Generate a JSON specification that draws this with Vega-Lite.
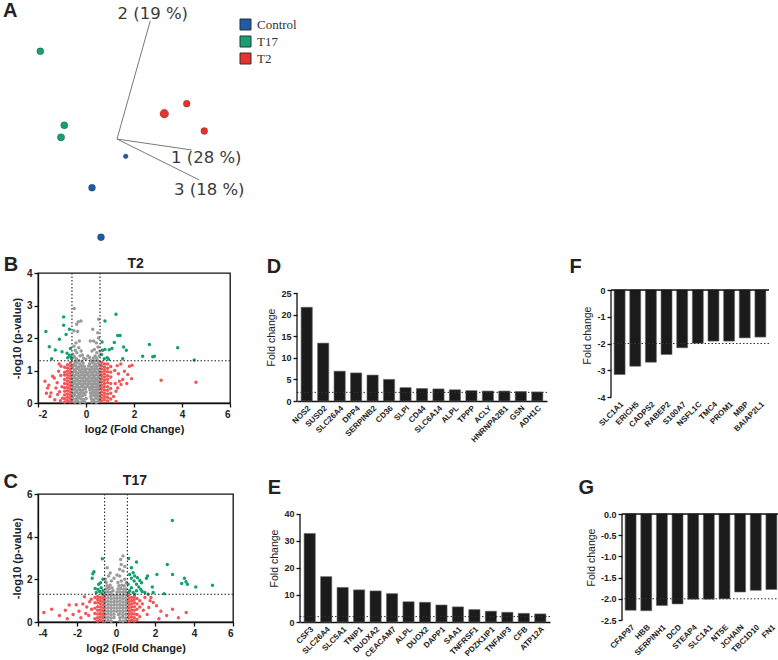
{
"$schema": "https://vega.github.io/schema/vega-lite/v6.json",
"background": "white",
"padding": {"left": 2, "top": 0, "right": 0, "bottom": 0},
"autosize": {"type": "pad"},
"config": {
  "font": "Liberation Sans",
  "view": {"stroke": null},
  "axis": {"domainColor": "#111", "domainWidth": 1.3, "tickColor": "#111", "tickWidth": 1.3, "tickSize": 4, "labelFontWeight": "bold", "labelFontSize": 9.5, "labelColor": "#222", "titleColor": "#222", "titleFontWeight": "normal", "titleFontSize": 10.5, "grid": false, "labelPadding": 2, "titlePadding": 4, "labelOverlap": false},
  "locale": {"number": {"decimal": ".", "thousands": ",", "grouping": [3], "currency": ["$", ""], "minus": "-"}}
},
"datasets": {
  "pca": [
    {"group": "T17", "x": -7.67, "y": 8.77, "depth": 0},
    {"group": "T17", "x": -5.27, "y": 1.37, "depth": 0.1},
    {"group": "T17", "x": -5.6, "y": 0.17, "depth": 0.2},
    {"group": "T2", "x": 6.97, "y": 3.53, "depth": -0.1},
    {"group": "T2", "x": 4.73, "y": 2.53, "depth": 1},
    {"group": "T2", "x": 8.73, "y": 0.8, "depth": -0.1},
    {"group": "Control", "x": 0.87, "y": -1.73, "depth": -1},
    {"group": "Control", "x": -2.5, "y": -4.87, "depth": 0},
    {"group": "Control", "x": -1.6, "y": -9.83, "depth": 0}
  ],
  "axes3d": [
    {"axis": "1", "x0": 0, "y0": 0, "x1": 7.47, "y1": -1.1, "label": "1 (28 %)", "lx": 5.4, "ly": -2.4},
    {"axis": "2", "x0": 0, "y0": 0, "x1": 3.33, "y1": 11.83, "label": "2 (19 %)", "lx": 0.05, "ly": 12.05},
    {"axis": "3", "x0": 0, "y0": 0, "x1": 8.23, "y1": -4.1, "label": "3 (18 %)", "lx": 5.7, "ly": -5.6}
  ],
  "t2": [
    {"x":-0.57,"y":0.05,"s":"n"},{"x":-0.46,"y":0.03,"s":"n"},{"x":-0.36,"y":0.06,"s":"n"},{"x":-0.25,"y":0.02,"s":"n"},{"x":-0.14,"y":0.05,"s":"n"},{"x":-0.05,"y":0.03,"s":"n"},{"x":0.24,"y":0.04,"s":"n"},{"x":0.33,"y":0.06,"s":"n"},{"x":0.43,"y":0.02,"s":"n"},{"x":0.53,"y":0.05,"s":"n"},
    {"x":-0.55,"y":0.14,"s":"n"},{"x":-0.43,"y":0.12,"s":"n"},{"x":-0.31,"y":0.15,"s":"n"},{"x":-0.2,"y":0.13,"s":"n"},{"x":-0.09,"y":0.11,"s":"n"},{"x":0.01,"y":0.14,"s":"n"},{"x":0.22,"y":0.13,"s":"n"},{"x":0.31,"y":0.11,"s":"n"},{"x":0.41,"y":0.15,"s":"n"},{"x":0.5,"y":0.12,"s":"n"},{"x":0.58,"y":0.14,"s":"n"},
    {"x":-0.58,"y":0.22,"s":"n"},{"x":-0.48,"y":0.24,"s":"n"},{"x":-0.37,"y":0.21,"s":"n"},{"x":-0.26,"y":0.23,"s":"n"},{"x":-0.15,"y":0.22,"s":"n"},{"x":-0.04,"y":0.25,"s":"n"},{"x":0.2,"y":0.21,"s":"n"},{"x":0.29,"y":0.24,"s":"n"},{"x":0.38,"y":0.22,"s":"n"},{"x":0.47,"y":0.23,"s":"n"},{"x":0.56,"y":0.21,"s":"n"},
    {"x":-0.53,"y":0.31,"s":"n"},{"x":-0.42,"y":0.33,"s":"n"},{"x":-0.32,"y":0.3,"s":"n"},{"x":-0.21,"y":0.32,"s":"n"},{"x":-0.1,"y":0.31,"s":"n"},{"x":0.0,"y":0.34,"s":"n"},{"x":0.19,"y":0.3,"s":"n"},{"x":0.27,"y":0.32,"s":"n"},{"x":0.36,"y":0.31,"s":"n"},{"x":0.45,"y":0.33,"s":"n"},{"x":0.55,"y":0.3,"s":"n"},
    {"x":-0.57,"y":0.4,"s":"n"},{"x":-0.47,"y":0.42,"s":"n"},{"x":-0.36,"y":0.39,"s":"n"},{"x":-0.25,"y":0.41,"s":"n"},{"x":-0.14,"y":0.4,"s":"n"},{"x":-0.03,"y":0.43,"s":"n"},{"x":0.16,"y":0.4,"s":"n"},{"x":0.25,"y":0.42,"s":"n"},{"x":0.34,"y":0.39,"s":"n"},{"x":0.43,"y":0.41,"s":"n"},{"x":0.52,"y":0.4,"s":"n"},
    {"x":-0.52,"y":0.49,"s":"n"},{"x":-0.41,"y":0.5,"s":"n"},{"x":-0.3,"y":0.48,"s":"n"},{"x":-0.19,"y":0.51,"s":"n"},{"x":-0.09,"y":0.49,"s":"n"},{"x":0.02,"y":0.5,"s":"n"},{"x":0.14,"y":0.48,"s":"n"},{"x":0.24,"y":0.51,"s":"n"},{"x":0.33,"y":0.49,"s":"n"},{"x":0.42,"y":0.5,"s":"n"},{"x":0.51,"y":0.48,"s":"n"},{"x":0.58,"y":0.51,"s":"n"},
    {"x":-0.56,"y":0.58,"s":"n"},{"x":-0.45,"y":0.6,"s":"n"},{"x":-0.35,"y":0.57,"s":"n"},{"x":-0.24,"y":0.59,"s":"n"},{"x":-0.13,"y":0.58,"s":"n"},{"x":-0.03,"y":0.6,"s":"n"},{"x":0.08,"y":0.57,"s":"n"},{"x":0.18,"y":0.59,"s":"n"},{"x":0.28,"y":0.58,"s":"n"},{"x":0.37,"y":0.6,"s":"n"},{"x":0.46,"y":0.57,"s":"n"},{"x":0.55,"y":0.59,"s":"n"},
    {"x":-0.53,"y":0.67,"s":"n"},{"x":-0.42,"y":0.69,"s":"n"},{"x":-0.31,"y":0.66,"s":"n"},{"x":-0.2,"y":0.68,"s":"n"},{"x":-0.1,"y":0.67,"s":"n"},{"x":0.0,"y":0.69,"s":"n"},{"x":0.1,"y":0.66,"s":"n"},{"x":0.2,"y":0.68,"s":"n"},{"x":0.3,"y":0.67,"s":"n"},{"x":0.39,"y":0.69,"s":"n"},{"x":0.49,"y":0.66,"s":"n"},{"x":0.57,"y":0.68,"s":"n"},
    {"x":-0.57,"y":0.76,"s":"n"},{"x":-0.46,"y":0.78,"s":"n"},{"x":-0.36,"y":0.75,"s":"n"},{"x":-0.25,"y":0.77,"s":"n"},{"x":-0.14,"y":0.76,"s":"n"},{"x":-0.04,"y":0.78,"s":"n"},{"x":0.06,"y":0.75,"s":"n"},{"x":0.16,"y":0.77,"s":"n"},{"x":0.26,"y":0.76,"s":"n"},{"x":0.36,"y":0.78,"s":"n"},{"x":0.45,"y":0.75,"s":"n"},{"x":0.54,"y":0.77,"s":"n"},
    {"x":-0.52,"y":0.85,"s":"n"},{"x":-0.41,"y":0.87,"s":"n"},{"x":-0.3,"y":0.84,"s":"n"},{"x":-0.19,"y":0.86,"s":"n"},{"x":-0.08,"y":0.85,"s":"n"},{"x":0.02,"y":0.87,"s":"n"},{"x":0.12,"y":0.84,"s":"n"},{"x":0.22,"y":0.86,"s":"n"},{"x":0.32,"y":0.85,"s":"n"},{"x":0.42,"y":0.87,"s":"n"},{"x":0.51,"y":0.84,"s":"n"},{"x":0.58,"y":0.86,"s":"n"},
    {"x":-0.56,"y":0.94,"s":"n"},{"x":-0.44,"y":0.96,"s":"n"},{"x":-0.33,"y":0.93,"s":"n"},{"x":-0.22,"y":0.95,"s":"n"},{"x":-0.11,"y":0.94,"s":"n"},{"x":-0.01,"y":0.96,"s":"n"},{"x":0.09,"y":0.93,"s":"n"},{"x":0.19,"y":0.95,"s":"n"},{"x":0.29,"y":0.94,"s":"n"},{"x":0.39,"y":0.96,"s":"n"},{"x":0.48,"y":0.93,"s":"n"},{"x":0.57,"y":0.95,"s":"n"},
    {"x":-0.5,"y":1.03,"s":"n"},{"x":-0.39,"y":1.05,"s":"n"},{"x":-0.27,"y":1.02,"s":"n"},{"x":-0.16,"y":1.04,"s":"n"},{"x":-0.05,"y":1.03,"s":"n"},{"x":0.05,"y":1.05,"s":"n"},{"x":0.15,"y":1.02,"s":"n"},{"x":0.25,"y":1.04,"s":"n"},{"x":0.35,"y":1.03,"s":"n"},{"x":0.45,"y":1.05,"s":"n"},{"x":0.54,"y":1.02,"s":"n"},
    {"x":-0.55,"y":1.12,"s":"n"},{"x":-0.43,"y":1.14,"s":"n"},{"x":-0.31,"y":1.11,"s":"n"},{"x":-0.19,"y":1.13,"s":"n"},{"x":-0.07,"y":1.12,"s":"n"},{"x":0.11,"y":1.14,"s":"n"},{"x":0.22,"y":1.11,"s":"n"},{"x":0.33,"y":1.13,"s":"n"},{"x":0.44,"y":1.12,"s":"n"},{"x":0.55,"y":1.14,"s":"n"},
    {"x":-0.5,"y":1.21,"s":"n"},{"x":-0.38,"y":1.23,"s":"n"},{"x":-0.25,"y":1.2,"s":"n"},{"x":-0.12,"y":1.22,"s":"n"},{"x":0.15,"y":1.21,"s":"n"},{"x":0.28,"y":1.23,"s":"n"},{"x":0.4,"y":1.2,"s":"n"},{"x":0.52,"y":1.22,"s":"n"},
    {"x":-0.45,"y":1.29,"s":"n"},{"x":-0.3,"y":1.31,"s":"n"},{"x":-0.16,"y":1.28,"s":"n"},{"x":0.2,"y":1.3,"s":"n"},{"x":0.34,"y":1.29,"s":"n"},{"x":0.48,"y":1.31,"s":"n"},
    {"x":-0.49,"y":2.91,"s":"n"},{"x":-0.32,"y":2.5,"s":"n"},{"x":-0.21,"y":2.52,"s":"n"},{"x":-0.39,"y":2.42,"s":"n"},{"x":-0.5,"y":2.22,"s":"n"},{"x":-0.35,"y":2.2,"s":"n"},{"x":-0.28,"y":1.91,"s":"n"},{"x":-0.42,"y":1.85,"s":"n"},{"x":-0.5,"y":1.75,"s":"n"},{"x":-0.3,"y":1.7,"s":"n"},{"x":-0.45,"y":1.62,"s":"n"},{"x":-0.38,"y":1.55,"s":"n"},{"x":-0.55,"y":1.5,"s":"n"},{"x":-0.2,"y":1.6,"s":"n"},{"x":-0.25,"y":1.45,"s":"n"},{"x":-0.48,"y":1.42,"s":"n"},{"x":-0.1,"y":1.38,"s":"n"},{"x":0.0,"y":1.35,"s":"n"},
    {"x":0.53,"y":2.58,"s":"n"},{"x":0.49,"y":2.16,"s":"n"},{"x":0.28,"y":2.27,"s":"n"},{"x":0.32,"y":1.91,"s":"n"},{"x":0.18,"y":1.91,"s":"n"},{"x":0.43,"y":1.85,"s":"n"},{"x":0.5,"y":1.72,"s":"n"},{"x":0.35,"y":1.65,"s":"n"},{"x":0.25,"y":1.6,"s":"n"},{"x":0.45,"y":1.55,"s":"n"},{"x":0.55,"y":1.45,"s":"n"},{"x":0.38,"y":1.45,"s":"n"},{"x":0.15,"y":1.4,"s":"n"},{"x":0.3,"y":1.38,"s":"n"},{"x":0.58,"y":1.6,"s":"n"},{"x":0.52,"y":2.0,"s":"n"},{"x":-0.15,"y":1.48,"s":"n"},{"x":0.08,"y":1.45,"s":"n"},{"x":-0.58,"y":1.38,"s":"n"},{"x":-0.4,"y":1.36,"s":"n"},{"x":0.44,"y":1.38,"s":"n"},
    {"x":-0.65,"y":0.04,"s":"r"},{"x":-0.65,"y":0.14,"s":"r"},{"x":-0.65,"y":0.24,"s":"r"},{"x":-0.65,"y":0.34,"s":"r"},{"x":-0.65,"y":0.44,"s":"r"},{"x":-0.65,"y":0.54,"s":"r"},{"x":-0.65,"y":0.64,"s":"r"},{"x":-0.65,"y":0.74,"s":"r"},{"x":-0.65,"y":0.84,"s":"r"},{"x":-0.65,"y":0.94,"s":"r"},{"x":-0.65,"y":1.04,"s":"r"},{"x":-0.65,"y":1.14,"s":"r"},{"x":-0.65,"y":1.24,"s":"r"},
    {"x":-0.77,"y":0.08,"s":"r"},{"x":-0.77,"y":0.18,"s":"r"},{"x":-0.77,"y":0.28,"s":"r"},{"x":-0.77,"y":0.38,"s":"r"},{"x":-0.77,"y":0.48,"s":"r"},{"x":-0.77,"y":0.58,"s":"r"},{"x":-0.77,"y":0.68,"s":"r"},{"x":-0.77,"y":0.78,"s":"r"},{"x":-0.77,"y":0.88,"s":"r"},{"x":-0.77,"y":0.98,"s":"r"},{"x":-0.77,"y":1.08,"s":"r"},{"x":-0.77,"y":1.18,"s":"r"},
    {"x":-0.89,"y":0.03,"s":"r"},{"x":-0.89,"y":0.13,"s":"r"},{"x":-0.89,"y":0.25,"s":"r"},{"x":-0.89,"y":0.36,"s":"r"},{"x":-0.89,"y":0.47,"s":"r"},{"x":-0.89,"y":0.6,"s":"r"},{"x":-0.89,"y":0.72,"s":"r"},{"x":-0.89,"y":0.86,"s":"r"},{"x":-0.89,"y":0.95,"s":"r"},{"x":-0.89,"y":1.1,"s":"r"},
    {"x":0.65,"y":0.05,"s":"r"},{"x":0.65,"y":0.15,"s":"r"},{"x":0.65,"y":0.25,"s":"r"},{"x":0.65,"y":0.35,"s":"r"},{"x":0.65,"y":0.45,"s":"r"},{"x":0.65,"y":0.55,"s":"r"},{"x":0.65,"y":0.65,"s":"r"},{"x":0.65,"y":0.75,"s":"r"},{"x":0.65,"y":0.85,"s":"r"},{"x":0.65,"y":0.95,"s":"r"},{"x":0.65,"y":1.05,"s":"r"},{"x":0.65,"y":1.15,"s":"r"},{"x":0.65,"y":1.25,"s":"r"},
    {"x":0.77,"y":0.1,"s":"r"},{"x":0.77,"y":0.2,"s":"r"},{"x":0.77,"y":0.3,"s":"r"},{"x":0.77,"y":0.4,"s":"r"},{"x":0.77,"y":0.5,"s":"r"},{"x":0.77,"y":0.6,"s":"r"},{"x":0.77,"y":0.7,"s":"r"},{"x":0.77,"y":0.8,"s":"r"},{"x":0.77,"y":0.9,"s":"r"},{"x":0.77,"y":1.0,"s":"r"},{"x":0.77,"y":1.1,"s":"r"},{"x":0.77,"y":1.2,"s":"r"},
    {"x":0.9,"y":0.06,"s":"r"},{"x":0.9,"y":0.17,"s":"r"},{"x":0.9,"y":0.28,"s":"r"},{"x":0.9,"y":0.39,"s":"r"},{"x":0.9,"y":0.5,"s":"r"},{"x":0.9,"y":0.62,"s":"r"},{"x":0.9,"y":0.73,"s":"r"},{"x":0.9,"y":0.84,"s":"r"},{"x":0.9,"y":0.96,"s":"r"},{"x":0.9,"y":1.07,"s":"r"},{"x":0.9,"y":1.2,"s":"r"},
    {"x":1.03,"y":0.12,"s":"r"},{"x":1.03,"y":0.3,"s":"r"},{"x":1.03,"y":0.45,"s":"r"},{"x":1.03,"y":0.6,"s":"r"},{"x":1.03,"y":0.8,"s":"r"},{"x":1.03,"y":0.95,"s":"r"},{"x":1.03,"y":1.12,"s":"r"},
    {"x":-1.71,"y":0.67,"s":"r"},{"x":-1.6,"y":0.46,"s":"r"},{"x":-1.39,"y":0.82,"s":"r"},{"x":-1.32,"y":0.77,"s":"r"},{"x":-1.46,"y":0.31,"s":"r"},{"x":-1.25,"y":0.46,"s":"r"},{"x":-1.14,"y":0.98,"s":"r"},{"x":-1.04,"y":1.13,"s":"r"},{"x":-1.18,"y":0.26,"s":"r"},{"x":-1.07,"y":0.07,"s":"r"},{"x":-0.98,"y":0.15,"s":"r"},{"x":-1.5,"y":0.2,"s":"r"},{"x":-1.3,"y":0.1,"s":"r"},{"x":-1.2,"y":0.62,"s":"r"},{"x":-1.1,"y":0.35,"s":"r"},{"x":-1.65,"y":0.3,"s":"r"},{"x":-1.55,"y":0.55,"s":"r"},{"x":-1.0,"y":0.5,"s":"r"},{"x":-1.05,"y":0.85,"s":"r"},{"x":-1.12,"y":1.2,"s":"r"},
    {"x":1.81,"y":1.13,"s":"r"},{"x":1.92,"y":1.16,"s":"r"},{"x":1.9,"y":0.75,"s":"r"},{"x":1.74,"y":0.88,"s":"r"},{"x":1.6,"y":0.98,"s":"r"},{"x":1.46,"y":0.57,"s":"r"},{"x":1.32,"y":0.46,"s":"r"},{"x":1.25,"y":0.36,"s":"r"},{"x":1.39,"y":0.67,"s":"r"},{"x":1.53,"y":0.72,"s":"r"},{"x":3.13,"y":0.7,"s":"r"},{"x":4.58,"y":0.64,"s":"r"},{"x":1.2,"y":1.0,"s":"r"},{"x":1.3,"y":1.15,"s":"r"},{"x":1.45,"y":1.2,"s":"r"},{"x":1.15,"y":0.2,"s":"r"},{"x":1.22,"y":0.6,"s":"r"},{"x":1.35,"y":0.9,"s":"r"},{"x":1.7,"y":0.6,"s":"r"},{"x":1.25,"y":0.05,"s":"r"},
    {"x":-1.67,"y":2.2,"s":"g"},{"x":-0.93,"y":2.65,"s":"g"},{"x":-0.93,"y":2.39,"s":"g"},{"x":-0.69,"y":2.27,"s":"g"},{"x":-0.83,"y":2.11,"s":"g"},{"x":-1.11,"y":1.96,"s":"g"},{"x":-1.53,"y":1.73,"s":"g"},{"x":-1.28,"y":1.63,"s":"g"},{"x":-1.43,"y":1.36,"s":"g"},{"x":-1.0,"y":1.58,"s":"g"},{"x":-0.79,"y":1.53,"s":"g"},{"x":-0.65,"y":1.68,"s":"g"},{"x":-0.76,"y":1.39,"s":"g"},{"x":-0.69,"y":1.47,"s":"g"},{"x":-0.63,"y":1.42,"s":"g"},{"x":-0.6,"y":1.36,"s":"g"},
    {"x":1.25,"y":2.73,"s":"g"},{"x":0.79,"y":2.52,"s":"g"},{"x":1.32,"y":2.08,"s":"g"},{"x":1.42,"y":2.08,"s":"g"},{"x":0.67,"y":1.88,"s":"g"},{"x":1.18,"y":1.86,"s":"g"},{"x":1.57,"y":1.72,"s":"g"},{"x":1.68,"y":1.62,"s":"g"},{"x":1.08,"y":1.68,"s":"g"},{"x":0.97,"y":1.64,"s":"g"},{"x":0.69,"y":1.62,"s":"g"},{"x":0.65,"y":1.49,"s":"g"},{"x":0.88,"y":1.39,"s":"g"},{"x":0.94,"y":1.35,"s":"g"},{"x":0.76,"y":1.36,"s":"g"},{"x":1.53,"y":1.36,"s":"g"},{"x":2.36,"y":1.44,"s":"g"},{"x":2.64,"y":1.8,"s":"g"},{"x":2.78,"y":1.42,"s":"g"},{"x":2.85,"y":1.44,"s":"g"},{"x":3.82,"y":1.7,"s":"g"},{"x":4.51,"y":1.32,"s":"g"},{"x":0.79,"y":1.65,"s":"g"}
  ],
  "t17": [
    {"x":-0.55,"y":0.05,"s":"n"},{"x":-0.4,"y":0.07,"s":"n"},{"x":-0.25,"y":0.04,"s":"n"},{"x":0.2,"y":0.06,"s":"n"},{"x":0.35,"y":0.04,"s":"n"},{"x":0.5,"y":0.07,"s":"n"},
    {"x":-0.55,"y":0.2,"s":"n"},{"x":-0.4,"y":0.22,"s":"n"},{"x":-0.25,"y":0.19,"s":"n"},{"x":-0.1,"y":0.21,"s":"n"},{"x":0.2,"y":0.2,"s":"n"},{"x":0.35,"y":0.22,"s":"n"},{"x":0.5,"y":0.19,"s":"n"},
    {"x":-0.55,"y":0.35,"s":"n"},{"x":-0.4,"y":0.37,"s":"n"},{"x":-0.25,"y":0.34,"s":"n"},{"x":-0.1,"y":0.36,"s":"n"},{"x":0.12,"y":0.35,"s":"n"},{"x":0.2,"y":0.37,"s":"n"},{"x":0.35,"y":0.34,"s":"n"},{"x":0.5,"y":0.36,"s":"n"},
    {"x":-0.55,"y":0.5,"s":"n"},{"x":-0.4,"y":0.52,"s":"n"},{"x":-0.25,"y":0.49,"s":"n"},{"x":-0.1,"y":0.51,"s":"n"},{"x":0.05,"y":0.5,"s":"n"},{"x":0.2,"y":0.52,"s":"n"},{"x":0.35,"y":0.49,"s":"n"},{"x":0.5,"y":0.51,"s":"n"},
    {"x":-0.55,"y":0.65,"s":"n"},{"x":-0.4,"y":0.67,"s":"n"},{"x":-0.25,"y":0.64,"s":"n"},{"x":-0.1,"y":0.66,"s":"n"},{"x":0.05,"y":0.65,"s":"n"},{"x":0.2,"y":0.67,"s":"n"},{"x":0.35,"y":0.64,"s":"n"},{"x":0.5,"y":0.66,"s":"n"},
    {"x":-0.55,"y":0.8,"s":"n"},{"x":-0.4,"y":0.82,"s":"n"},{"x":-0.25,"y":0.79,"s":"n"},{"x":-0.1,"y":0.81,"s":"n"},{"x":0.05,"y":0.8,"s":"n"},{"x":0.2,"y":0.82,"s":"n"},{"x":0.35,"y":0.79,"s":"n"},{"x":0.5,"y":0.81,"s":"n"},
    {"x":-0.55,"y":0.95,"s":"n"},{"x":-0.4,"y":0.97,"s":"n"},{"x":-0.25,"y":0.94,"s":"n"},{"x":-0.1,"y":0.96,"s":"n"},{"x":0.05,"y":0.95,"s":"n"},{"x":0.2,"y":0.97,"s":"n"},{"x":0.35,"y":0.94,"s":"n"},{"x":0.5,"y":0.96,"s":"n"},
    {"x":-0.55,"y":1.1,"s":"n"},{"x":-0.4,"y":1.12,"s":"n"},{"x":-0.25,"y":1.09,"s":"n"},{"x":-0.1,"y":1.11,"s":"n"},{"x":0.05,"y":1.1,"s":"n"},{"x":0.2,"y":1.12,"s":"n"},{"x":0.35,"y":1.09,"s":"n"},{"x":0.5,"y":1.11,"s":"n"},
    {"x":-0.55,"y":1.25,"s":"n"},{"x":-0.4,"y":1.27,"s":"n"},{"x":-0.25,"y":1.24,"s":"n"},{"x":-0.1,"y":1.26,"s":"n"},{"x":0.05,"y":1.25,"s":"n"},{"x":0.2,"y":1.27,"s":"n"},{"x":0.35,"y":1.24,"s":"n"},{"x":0.5,"y":1.26,"s":"n"},
    {"x":-0.55,"y":1.4,"s":"n"},{"x":-0.4,"y":1.42,"s":"n"},{"x":-0.25,"y":1.39,"s":"n"},{"x":0.05,"y":1.4,"s":"n"},{"x":0.2,"y":1.42,"s":"n"},{"x":0.35,"y":1.39,"s":"n"},{"x":0.5,"y":1.41,"s":"n"},
    {"x":-0.5,"y":1.55,"s":"n"},{"x":-0.35,"y":1.57,"s":"n"},{"x":0.1,"y":1.55,"s":"n"},{"x":0.25,"y":1.57,"s":"n"},{"x":0.4,"y":1.54,"s":"n"},
    {"x":-0.45,"y":1.7,"s":"n"},{"x":-0.3,"y":1.72,"s":"n"},{"x":0.15,"y":1.7,"s":"n"},{"x":0.3,"y":1.72,"s":"n"},
    {"x":-0.45,"y":2.54,"s":"n"},{"x":-0.55,"y":2.0,"s":"n"},{"x":-0.38,"y":2.16,"s":"n"},{"x":-0.24,"y":1.92,"s":"n"},{"x":-0.5,"y":1.85,"s":"n"},{"x":0.19,"y":2.16,"s":"n"},{"x":0.45,"y":2.0,"s":"n"},{"x":0.27,"y":1.92,"s":"n"},{"x":-0.38,"y":1.61,"s":"n"},{"x":-0.2,"y":1.6,"s":"n"},{"x":0.1,"y":1.85,"s":"n"},{"x":0.42,"y":1.7,"s":"n"},{"x":0.53,"y":1.84,"s":"n"},{"x":0.5,"y":1.55,"s":"n"},{"x":-0.15,"y":1.46,"s":"n"},{"x":0.36,"y":3.09,"s":"n"},{"x":0.24,"y":2.93,"s":"n"},{"x":0.27,"y":2.7,"s":"n"},{"x":0.19,"y":2.47,"s":"n"},{"x":0.36,"y":2.39,"s":"n"},{"x":-0.3,"y":2.3,"s":"n"},{"x":0.45,"y":2.6,"s":"n"},{"x":0.05,"y":2.2,"s":"n"},{"x":-0.1,"y":2.05,"s":"n"},
    {"x":-0.66,"y":0.05,"s":"r"},{"x":-0.66,"y":0.2,"s":"r"},{"x":-0.66,"y":0.35,"s":"r"},{"x":-0.66,"y":0.5,"s":"r"},{"x":-0.66,"y":0.65,"s":"r"},{"x":-0.66,"y":0.8,"s":"r"},{"x":-0.66,"y":0.95,"s":"r"},{"x":-0.66,"y":1.1,"s":"r"},{"x":-0.66,"y":1.25,"s":"r"},
    {"x":-0.8,"y":0.1,"s":"r"},{"x":-0.8,"y":0.25,"s":"r"},{"x":-0.8,"y":0.4,"s":"r"},{"x":-0.8,"y":0.55,"s":"r"},{"x":-0.8,"y":0.7,"s":"r"},{"x":-0.8,"y":0.85,"s":"r"},{"x":-0.8,"y":1.0,"s":"r"},{"x":-0.8,"y":1.15,"s":"r"},
    {"x":-0.94,"y":0.05,"s":"r"},{"x":-0.94,"y":0.2,"s":"r"},{"x":-0.94,"y":0.38,"s":"r"},{"x":-0.94,"y":0.55,"s":"r"},{"x":-0.94,"y":0.72,"s":"r"},{"x":-0.94,"y":0.9,"s":"r"},{"x":-0.94,"y":1.05,"s":"r"},{"x":-0.94,"y":1.2,"s":"r"},
    {"x":-1.08,"y":0.15,"s":"r"},{"x":-1.08,"y":0.4,"s":"r"},{"x":-1.08,"y":0.65,"s":"r"},{"x":-1.08,"y":0.9,"s":"r"},{"x":-1.08,"y":1.15,"s":"r"},
    {"x":0.66,"y":0.05,"s":"r"},{"x":0.66,"y":0.2,"s":"r"},{"x":0.66,"y":0.35,"s":"r"},{"x":0.66,"y":0.5,"s":"r"},{"x":0.66,"y":0.65,"s":"r"},{"x":0.66,"y":0.8,"s":"r"},{"x":0.66,"y":0.95,"s":"r"},{"x":0.66,"y":1.1,"s":"r"},{"x":0.66,"y":1.25,"s":"r"},
    {"x":0.8,"y":0.1,"s":"r"},{"x":0.8,"y":0.25,"s":"r"},{"x":0.8,"y":0.4,"s":"r"},{"x":0.8,"y":0.55,"s":"r"},{"x":0.8,"y":0.7,"s":"r"},{"x":0.8,"y":0.85,"s":"r"},{"x":0.8,"y":1.0,"s":"r"},{"x":0.8,"y":1.15,"s":"r"},
    {"x":0.94,"y":0.05,"s":"r"},{"x":0.94,"y":0.2,"s":"r"},{"x":0.94,"y":0.38,"s":"r"},{"x":0.94,"y":0.55,"s":"r"},{"x":0.94,"y":0.72,"s":"r"},{"x":0.94,"y":0.9,"s":"r"},{"x":0.94,"y":1.05,"s":"r"},{"x":0.94,"y":1.2,"s":"r"},
    {"x":1.08,"y":0.12,"s":"r"},{"x":1.08,"y":0.35,"s":"r"},{"x":1.08,"y":0.6,"s":"r"},{"x":1.08,"y":0.85,"s":"r"},{"x":1.08,"y":1.1,"s":"r"},
    {"x":1.22,"y":0.25,"s":"r"},{"x":1.22,"y":0.7,"s":"r"},{"x":1.22,"y":1.0,"s":"r"},
    {"x":-1.62,"y":1.18,"s":"r"},{"x":-2.04,"y":0.81,"s":"r"},{"x":-1.7,"y":0.84,"s":"r"},{"x":-1.27,"y":1.07,"s":"r"},{"x":1.48,"y":1.15,"s":"r"},{"x":1.79,"y":1.15,"s":"r"},{"x":1.91,"y":0.91,"s":"r"},{"x":1.68,"y":0.68,"s":"r"},{"x":2.08,"y":0.76,"s":"r"},
    {"x":-3.7,"y":0.45,"s":"r"},{"x":-3.3,"y":0.6,"s":"r"},{"x":-2.9,"y":0.3,"s":"r"},{"x":-2.6,"y":0.55,"s":"r"},{"x":-2.4,"y":0.8,"s":"r"},{"x":-2.2,"y":0.35,"s":"r"},{"x":-1.9,"y":0.5,"s":"r"},{"x":-1.8,"y":0.2,"s":"r"},{"x":-2.5,"y":0.15,"s":"r"},{"x":-1.5,"y":0.7,"s":"r"},{"x":-1.4,"y":0.3,"s":"r"},{"x":2.3,"y":0.5,"s":"r"},{"x":2.6,"y":0.3,"s":"r"},{"x":2.9,"y":0.6,"s":"r"},{"x":3.2,"y":0.2,"s":"r"},{"x":3.6,"y":0.45,"s":"r"},{"x":2.2,"y":0.15,"s":"r"},{"x":1.6,"y":0.35,"s":"r"},{"x":1.75,"y":1.0,"s":"r"},{"x":1.4,"y":0.55,"s":"r"},{"x":-1.35,"y":0.95,"s":"r"},{"x":-1.55,"y":0.4,"s":"r"},{"x":-1.25,"y":0.6,"s":"r"},{"x":1.35,"y":0.85,"s":"r"},
    {"x":2.89,"y":4.76,"s":"g"},{"x":2.63,"y":2.7,"s":"g"},{"x":2.9,"y":2.23,"s":"g"},{"x":3.51,"y":2.05,"s":"g"},{"x":3.37,"y":1.8,"s":"g"},{"x":3.59,"y":1.89,"s":"g"},{"x":3.66,"y":1.77,"s":"g"},{"x":4.09,"y":1.64,"s":"g"},{"x":2.1,"y":2.23,"s":"g"},{"x":1.62,"y":2.16,"s":"g"},{"x":1.56,"y":2.05,"s":"g"},{"x":1.05,"y":2.81,"s":"g"},{"x":0.65,"y":2.98,"s":"g"},{"x":0.79,"y":2.54,"s":"g"},{"x":0.88,"y":2.31,"s":"g"},{"x":0.96,"y":2.16,"s":"g"},{"x":1.1,"y":2.08,"s":"g"},{"x":1.22,"y":1.95,"s":"g"},{"x":1.31,"y":1.84,"s":"g"},{"x":0.7,"y":2.23,"s":"g"},{"x":0.79,"y":2.05,"s":"g"},{"x":0.93,"y":1.92,"s":"g"},{"x":1.05,"y":1.77,"s":"g"},{"x":1.17,"y":1.64,"s":"g"},{"x":1.27,"y":1.53,"s":"g"},{"x":1.34,"y":1.43,"s":"g"},{"x":1.48,"y":1.38,"s":"g"},{"x":1.86,"y":1.64,"s":"g"},{"x":1.91,"y":1.38,"s":"g"},{"x":1.65,"y":1.3,"s":"g"},{"x":0.79,"y":1.61,"s":"g"},{"x":0.7,"y":1.46,"s":"g"},{"x":0.88,"y":1.38,"s":"g"},{"x":1.05,"y":1.46,"s":"g"},{"x":0.62,"y":1.77,"s":"g"},{"x":0.65,"y":1.38,"s":"g"},{"x":0.96,"y":1.3,"s":"g"},{"x":2.47,"y":1.33,"s":"g"},{"x":4.95,"y":1.72,"s":"g"},
    {"x":-0.7,"y":2.96,"s":"g"},{"x":-1.13,"y":2.36,"s":"g"},{"x":-1.19,"y":2.26,"s":"g"},{"x":-1.22,"y":2.05,"s":"g"},{"x":-0.67,"y":2.0,"s":"g"},{"x":-0.89,"y":1.77,"s":"g"},{"x":-1.07,"y":1.57,"s":"g"},{"x":-0.93,"y":1.53,"s":"g"},{"x":-0.76,"y":1.61,"s":"g"},{"x":-0.84,"y":1.43,"s":"g"},{"x":-1.01,"y":1.38,"s":"g"},{"x":-0.67,"y":1.46,"s":"g"},{"x":-0.72,"y":1.33,"s":"g"},{"x":-0.79,"y":1.84,"s":"g"}
  ],
  "d": [
    {"gene":"NOS2","fc":21.7},{"gene":"SUSD2","fc":13.4},{"gene":"SLC26A4","fc":6.9},{"gene":"DPP4","fc":6.5},{"gene":"SERPINB2","fc":6.0},{"gene":"CD36","fc":5.0},{"gene":"SLPI","fc":3.1},{"gene":"CD44","fc":2.9},{"gene":"SLC6A14","fc":2.8},{"gene":"ALPL","fc":2.6},{"gene":"TPPP","fc":2.4},{"gene":"ACLY","fc":2.3},{"gene":"HNRNPA2B1","fc":2.3},{"gene":"GSN","fc":2.2},{"gene":"ADH1C","fc":2.1}
  ],
  "e": [
    {"gene":"CSF3","fc":32.8},{"gene":"SLC26A4","fc":16.8},{"gene":"SLC5A1","fc":12.8},{"gene":"TNIP1","fc":11.9},{"gene":"DUOXA2","fc":11.5},{"gene":"CEACAM7","fc":10.5},{"gene":"ALPL","fc":7.5},{"gene":"DUOX2","fc":7.3},{"gene":"DAPP1","fc":6.3},{"gene":"SAA1","fc":5.6},{"gene":"TNFRSF1","fc":4.6},{"gene":"PDZK1IP1","fc":4.0},{"gene":"TNFAIP3","fc":3.6},{"gene":"CFB","fc":3.2},{"gene":"ATP12A","fc":3.0}
  ],
  "f": [
    {"gene":"SLC1A1","fc":-3.16},{"gene":"ERICH5","fc":-2.85},{"gene":"CADPS2","fc":-2.7},{"gene":"RABEP2","fc":-2.41},{"gene":"S100A7","fc":-2.16},{"gene":"NSFL1C","fc":-1.99},{"gene":"TMC4","fc":-1.91},{"gene":"PROM1","fc":-1.91},{"gene":"MBP","fc":-1.79},{"gene":"BAIAP2L1","fc":-1.76}
  ],
  "g": [
    {"gene":"CFAP97","fc":-2.27},{"gene":"HBB","fc":-2.28},{"gene":"SERPINH1","fc":-2.16},{"gene":"DCD","fc":-2.12},{"gene":"STEAP4","fc":-2.01},{"gene":"SLC1A1","fc":-2.01},{"gene":"NT5E","fc":-2.0},{"gene":"JCHAIN","fc":-1.84},{"gene":"TBC1D10","fc":-1.8},{"gene":"FN1","fc":-1.78}
  ]
},
"columns": 1,
"spacing": 4,
"resolve": {"scale": {"color": "independent", "size": "independent"}, "legend": {"color": "independent", "size": "independent"}},
"concat": [
  {
    "width": 283, "height": 250,
    "layer": [
      {"data": {"name": "axes3d"}, "mark": {"type": "rule", "color": "#7a7a7a", "strokeWidth": 1},
       "encoding": {"x": {"field": "x0", "type": "quantitative", "scale": {"domain": [-7.9, 20.4], "nice": false, "zero": false}, "axis": null},
                    "y": {"field": "y0", "type": "quantitative", "scale": {"domain": [-11.1, 13.9], "nice": false, "zero": false}, "axis": null},
                    "x2": {"field": "x1"}, "y2": {"field": "y1"}}},
      {"data": {"name": "axes3d"}, "mark": {"type": "text", "align": "left", "baseline": "alphabetic", "font": "DejaVu Sans", "fontSize": 16.5, "color": "#3a3a3a"},
       "encoding": {"x": {"field": "lx", "type": "quantitative", "axis": null}, "y": {"field": "ly", "type": "quantitative", "axis": null}, "text": {"field": "label"}}},
      {"data": {"name": "pca"}, "mark": {"type": "circle", "opacity": 1, "stroke": "#222", "strokeWidth": 0.3},
       "encoding": {"x": {"field": "x", "type": "quantitative", "axis": null}, "y": {"field": "y", "type": "quantitative", "axis": null},
                    "size": {"field": "depth", "type": "quantitative", "scale": {"domain": [-1, 1], "range": [22, 75]}, "legend": null},
                    "color": {"field": "group", "type": "nominal", "scale": {"domain": ["Control", "T17", "T2"], "range": ["#1d5ba6", "#14a074", "#e8322e"]},
                              "legend": {"orient": "none", "legendX": 201, "legendY": 18, "title": null, "symbolType": "square", "symbolSize": 121, "symbolStrokeColor": "#333", "symbolStrokeWidth": 1, "symbolOpacity": 1, "labelFont": "Liberation Serif", "labelFontSize": 13, "labelColor": "#333", "rowPadding": 2, "labelOffset": 5}}}},
      {"data": {"values": [{"t": "A"}]}, "mark": {"type": "text", "align": "left", "baseline": "alphabetic", "fontSize": 20, "fontWeight": "bold", "color": "#222"},
       "encoding": {"x": {"datum": -11.4, "type": "quantitative", "axis": null}, "y": {"datum": 12.2, "type": "quantitative", "axis": null}, "text": {"field": "t"}}}
    ]
  },
  {
    "columns": 1,
    "spacing": 27,
    "resolve": {"scale": {"color": "independent"}, "legend": {"color": "independent"}},
    "concat": [
      {
        "spacing": 34,
        "resolve": {"scale": {"color": "independent"}, "legend": {"color": "independent"}},
        "concat": [
          {
            "width": 192, "height": 130,
            "view": {"stroke": "#111", "strokeWidth": 1.3},
            "layer": [
              {"data": {"name": "t2"}, "mark": {"type": "circle", "size": 12, "opacity": 1},
               "encoding": {"x": {"field": "x", "type": "quantitative", "scale": {"domain": [-2, 6], "nice": false}, "axis": {"values": [-2, 0, 2, 4, 6], "tickCount": 20, "format": "d", "title": "log2 (Fold Change)", "titleFontWeight": "bold", "titleFontSize": 11, "labelFontSize": 10, "labelOverlap": false}},
                            "y": {"field": "y", "type": "quantitative", "scale": {"domain": [0, 4], "nice": false}, "axis": {"values": [0, 1, 2, 3, 4], "tickCount": 20, "format": "d", "title": "-log10 (p-value)", "titleFontWeight": "bold", "titleFontSize": 11, "labelFontSize": 10, "labelOverlap": false}},
                            "color": {"field": "s", "type": "nominal", "scale": {"domain": ["n", "r", "g"], "range": ["#9a9a9a", "#f25656", "#13a06e"]}, "legend": null}}},
              {"data": {"values": [{"v": 1.3}]}, "mark": {"type": "rule", "strokeDash": [1.5, 2], "color": "#222", "strokeWidth": 1.2},
               "encoding": {"y": {"field": "v", "type": "quantitative"}}},
              {"data": {"values": [{"v": -0.585}, {"v": 0.585}]}, "mark": {"type": "rule", "strokeDash": [1.5, 2], "color": "#333", "strokeWidth": 1.2},
               "encoding": {"x": {"field": "v", "type": "quantitative"}}},
              {"data": {"values": [{"t": "B"}]}, "mark": {"type": "text", "align": "left", "baseline": "alphabetic", "fontSize": 20, "fontWeight": "bold", "color": "#222"},
               "encoding": {"x": {"datum": -3.43, "type": "quantitative"}, "y": {"datum": 4.06, "type": "quantitative"}, "text": {"field": "t"}}},
              {"data": {"values": [{"t": "T2"}]}, "mark": {"type": "text", "align": "center", "baseline": "alphabetic", "fontSize": 14, "fontWeight": "bold", "color": "#222"},
               "encoding": {"x": {"datum": 2.07, "type": "quantitative"}, "y": {"datum": 4.15, "type": "quantitative"}, "text": {"field": "t"}}}
            ]
          },
          {
            "spacing": 21,
            "concat": [
              {
                "width": 250, "height": 128,
                "resolve": {"scale": {"x": "independent"}},
                "layer": [
                  {"layer": [
                    {"data": {"name": "d"}, "mark": {"type": "bar", "color": "#1b1b1b", "stroke": "#666", "strokeWidth": 0.6},
                     "encoding": {"x": {"field": "gene", "type": "nominal", "sort": null, "scale": {"paddingInner": 0.32, "paddingOuter": 0.25}, "axis": {"title": null, "labelAngle": -45, "labelFontSize": 8, "ticks": false, "labelPadding": 3}},
                                  "y": {"field": "fc", "type": "quantitative", "scale": {"domain": [0, 29.63], "nice": false}, "axis": {"values": [0, 5, 10, 15, 20, 25], "tickCount": 20, "format": "d", "domain": false, "title": "Fold change", "labelFontSize": 9, "labelOverlap": false}}}},
                    {"data": {"values": [{"v": 2}]}, "mark": {"type": "rule", "strokeDash": [1.5, 2], "color": "#333", "strokeWidth": 1},
                     "encoding": {"y": {"field": "v", "type": "quantitative"}}},
                    {"data": {"name": "d"}, "transform": [{"filter": "datum.gene === 'NOS2'"}], "mark": {"type": "text", "align": "left", "baseline": "alphabetic", "fontSize": 20, "fontWeight": "bold", "color": "#222", "dx": -40},
                     "encoding": {"x": {"field": "gene", "type": "nominal", "sort": null}, "y": {"datum": 29.63, "type": "quantitative"}, "text": {"value": "D"}}}
                  ]},
                  {"data": {"values": [{"a": 0, "lo": 0, "hi": 25}]}, "mark": {"type": "rule", "color": "#111", "strokeWidth": 1.3},
                   "encoding": {"x": {"field": "a", "type": "quantitative", "scale": {"domain": [0, 1]}, "axis": null}, "y": {"field": "lo", "type": "quantitative"}, "y2": {"field": "hi"}}}
                ]
              },
              {
                "width": 158, "height": 124,
                "resolve": {"scale": {"x": "independent"}},
                "layer": [
                  {"layer": [
                    {"data": {"name": "f"}, "mark": {"type": "bar", "color": "#1b1b1b", "stroke": "#666", "strokeWidth": 0.6},
                     "encoding": {"x": {"field": "gene", "type": "nominal", "sort": null, "scale": {"paddingInner": 0.3, "paddingOuter": 0.2}, "axis": {"title": null, "labelAngle": -45, "labelFontSize": 8, "ticks": false, "domain": false, "labelPadding": 3}},
                                  "y": {"field": "fc", "type": "quantitative", "scale": {"domain": [-4, 0.636], "nice": false, "zero": false}, "axis": {"values": [0, -1, -2, -3, -4], "tickCount": 20, "format": "d", "domain": false, "title": "Fold change", "labelFontSize": 9, "labelOverlap": false}}}},
                    {"data": {"values": [{"v": 0}]}, "mark": {"type": "rule", "color": "#111", "strokeWidth": 1.3},
                     "encoding": {"y": {"field": "v", "type": "quantitative"}}},
                    {"data": {"values": [{"v": -2}]}, "mark": {"type": "rule", "strokeDash": [1.5, 2], "color": "#333", "strokeWidth": 1},
                     "encoding": {"y": {"field": "v", "type": "quantitative"}}},
                    {"data": {"name": "f"}, "transform": [{"filter": "datum.gene === 'SLC1A1'"}], "mark": {"type": "text", "align": "left", "baseline": "alphabetic", "fontSize": 20, "fontWeight": "bold", "color": "#222", "dx": -50},
                     "encoding": {"x": {"field": "gene", "type": "nominal", "sort": null}, "y": {"datum": 0.636, "type": "quantitative"}, "text": {"value": "F"}}}
                  ]},
                  {"data": {"values": [{"a": 0, "lo": -4, "hi": 0}]}, "mark": {"type": "rule", "color": "#111", "strokeWidth": 1.3},
                   "encoding": {"x": {"field": "a", "type": "quantitative", "scale": {"domain": [0, 1]}, "axis": null}, "y": {"field": "lo", "type": "quantitative"}, "y2": {"field": "hi"}}}
                ]
              }
            ]
          }
        ]
      },
      {
        "spacing": 32,
        "resolve": {"scale": {"color": "independent"}, "legend": {"color": "independent"}},
        "concat": [
          {
            "width": 195, "height": 128,
            "view": {"stroke": "#111", "strokeWidth": 1.3},
            "layer": [
              {"data": {"name": "t17"}, "mark": {"type": "circle", "size": 12, "opacity": 1},
               "encoding": {"x": {"field": "x", "type": "quantitative", "scale": {"domain": [-4, 6], "nice": false}, "axis": {"values": [-4, -2, 0, 2, 4, 6], "tickCount": 20, "format": "d", "title": "log2 (Fold Change)", "titleFontWeight": "bold", "titleFontSize": 11, "labelFontSize": 10, "labelOverlap": false}},
                            "y": {"field": "y", "type": "quantitative", "scale": {"domain": [0, 6], "nice": false}, "axis": {"values": [0, 2, 4, 6], "tickCount": 20, "format": "d", "title": "-log10 (p-value)", "titleFontWeight": "bold", "titleFontSize": 11, "labelFontSize": 10, "labelOverlap": false}},
                            "color": {"field": "s", "type": "nominal", "scale": {"domain": ["n", "r", "g"], "range": ["#9a9a9a", "#f25656", "#13a06e"]}, "legend": null}}},
              {"data": {"values": [{"v": 1.3}]}, "mark": {"type": "rule", "strokeDash": [1.5, 2], "color": "#222", "strokeWidth": 1.2},
               "encoding": {"y": {"field": "v", "type": "quantitative"}}},
              {"data": {"values": [{"v": -0.585}, {"v": 0.585}]}, "mark": {"type": "rule", "strokeDash": [1.5, 2], "color": "#333", "strokeWidth": 1.2},
               "encoding": {"x": {"field": "v", "type": "quantitative"}}},
              {"data": {"values": [{"t": "C"}]}, "mark": {"type": "text", "align": "left", "baseline": "alphabetic", "fontSize": 20, "fontWeight": "bold", "color": "#222"},
               "encoding": {"x": {"datum": -5.77, "type": "quantitative"}, "y": {"datum": 6.27, "type": "quantitative"}, "text": {"field": "t"}}},
              {"data": {"values": [{"t": "T17"}]}, "mark": {"type": "text", "align": "center", "baseline": "alphabetic", "fontSize": 14, "fontWeight": "bold", "color": "#222"},
               "encoding": {"x": {"datum": 0.97, "type": "quantitative"}, "y": {"datum": 6.41, "type": "quantitative"}, "text": {"field": "t"}}}
            ]
          },
          {
            "spacing": 27,
            "concat": [
              {
                "width": 250, "height": 128,
                "resolve": {"scale": {"x": "independent"}},
                "layer": [
                  {"layer": [
                    {"data": {"name": "e"}, "mark": {"type": "bar", "color": "#1b1b1b", "stroke": "#666", "strokeWidth": 0.6},
                     "encoding": {"x": {"field": "gene", "type": "nominal", "sort": null, "scale": {"paddingInner": 0.32, "paddingOuter": 0.25}, "axis": {"title": null, "labelAngle": -45, "labelFontSize": 8, "ticks": false, "labelPadding": 3}},
                                  "y": {"field": "fc", "type": "quantitative", "scale": {"domain": [0, 47.4], "nice": false}, "axis": {"values": [0, 10, 20, 30, 40], "tickCount": 20, "format": "d", "domain": false, "title": "Fold change", "labelFontSize": 9, "labelOverlap": false}}}},
                    {"data": {"values": [{"v": 2}]}, "mark": {"type": "rule", "strokeDash": [1.5, 2], "color": "#333", "strokeWidth": 1},
                     "encoding": {"y": {"field": "v", "type": "quantitative"}}},
                    {"data": {"name": "e"}, "transform": [{"filter": "datum.gene === 'CSF3'"}], "mark": {"type": "text", "align": "left", "baseline": "alphabetic", "fontSize": 20, "fontWeight": "bold", "color": "#222", "dx": -42},
                     "encoding": {"x": {"field": "gene", "type": "nominal", "sort": null}, "y": {"datum": 47.4, "type": "quantitative"}, "text": {"value": "E"}}}
                  ]},
                  {"data": {"values": [{"a": 0, "lo": 0, "hi": 40}]}, "mark": {"type": "rule", "color": "#111", "strokeWidth": 1.3},
                   "encoding": {"x": {"field": "a", "type": "quantitative", "scale": {"domain": [0, 1]}, "axis": null}, "y": {"field": "lo", "type": "quantitative"}, "y2": {"field": "hi"}}}
                ]
              },
              {
                "width": 158, "height": 126,
                "resolve": {"scale": {"x": "independent"}},
                "layer": [
                  {"layer": [
                    {"data": {"name": "g"}, "mark": {"type": "bar", "color": "#1b1b1b", "stroke": "#666", "strokeWidth": 0.6},
                     "encoding": {"x": {"field": "gene", "type": "nominal", "sort": null, "scale": {"paddingInner": 0.3, "paddingOuter": 0.2}, "axis": {"title": null, "labelAngle": -45, "labelFontSize": 8, "ticks": false, "domain": false, "labelPadding": 3}},
                                  "y": {"field": "fc", "type": "quantitative", "scale": {"domain": [-2.5, 0.472], "nice": false, "zero": false}, "axis": {"values": [0, -0.5, -1, -1.5, -2, -2.5], "tickCount": 20, "format": ".1f", "domain": false, "title": "Fold change", "labelFontSize": 9, "labelOverlap": false}}}},
                    {"data": {"values": [{"v": 0}]}, "mark": {"type": "rule", "color": "#111", "strokeWidth": 1.3},
                     "encoding": {"y": {"field": "v", "type": "quantitative"}}},
                    {"data": {"values": [{"v": -2}]}, "mark": {"type": "rule", "strokeDash": [1.5, 2], "color": "#333", "strokeWidth": 1},
                     "encoding": {"y": {"field": "v", "type": "quantitative"}}},
                    {"data": {"name": "g"}, "transform": [{"filter": "datum.gene === 'CFAP97'"}], "mark": {"type": "text", "align": "left", "baseline": "alphabetic", "fontSize": 20, "fontWeight": "bold", "color": "#222", "dx": -52},
                     "encoding": {"x": {"field": "gene", "type": "nominal", "sort": null}, "y": {"datum": 0.472, "type": "quantitative"}, "text": {"value": "G"}}}
                  ]},
                  {"data": {"values": [{"a": 0, "lo": -2.5, "hi": 0}]}, "mark": {"type": "rule", "color": "#111", "strokeWidth": 1.3},
                   "encoding": {"x": {"field": "a", "type": "quantitative", "scale": {"domain": [0, 1]}, "axis": null}, "y": {"field": "lo", "type": "quantitative"}, "y2": {"field": "hi"}}}
                ]
              }
            ]
          }
        ]
      }
    ]
  }
]
}
